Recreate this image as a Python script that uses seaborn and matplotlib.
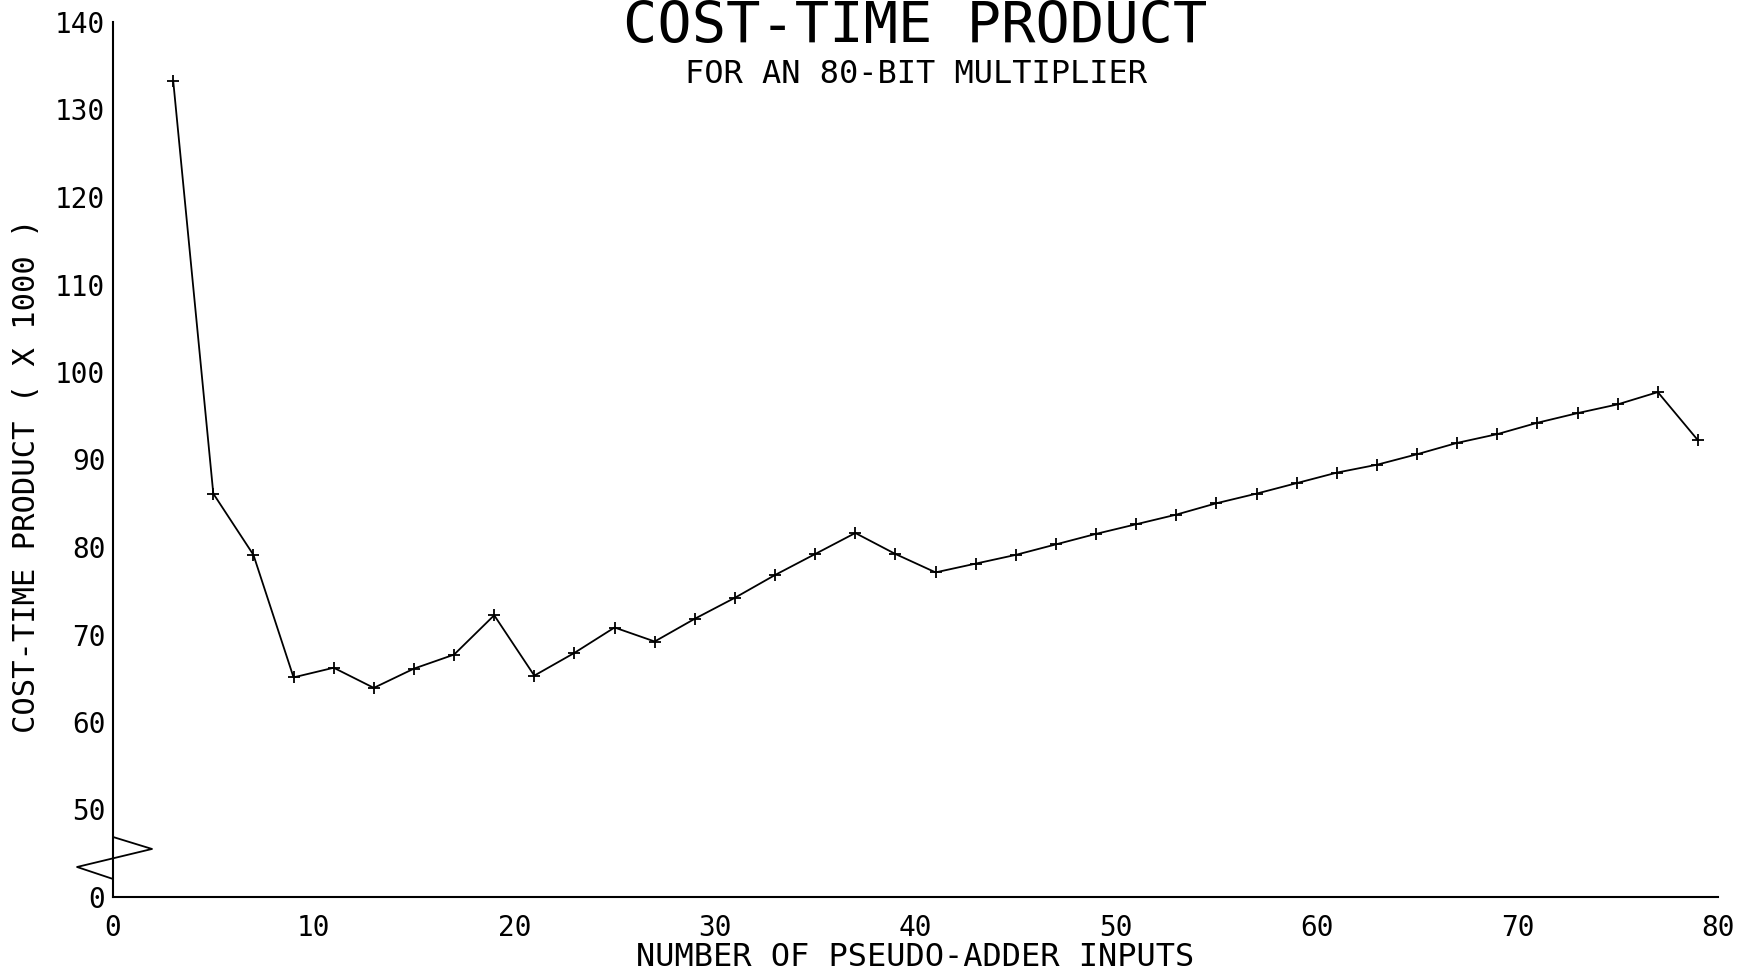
import numpy as np
import matplotlib
matplotlib.use("Agg")
import matplotlib.pyplot as plt
import seaborn as sns

# Number of pseudo-adder inputs and cost-time product (x 1000)
adder_inputs = [3, 5, 7, 9, 11, 13, 15, 17, 19, 21, 23, 25, 27, 29, 31, 33, 35,
                37, 39, 41, 43, 45, 47, 49, 51, 53, 55, 57, 59, 61, 63, 65, 67,
                69, 71, 73, 75, 77, 79]
cost_time = [133.3, 86.1, 79.1, 65.1, 66.2, 63.9, 66.1, 67.7, 72.2, 65.3, 67.9,
             70.8, 69.2, 71.8, 74.2, 76.8, 79.2, 81.6, 79.2, 77.1, 78.1, 79.1,
             80.3, 81.5, 82.6, 83.7, 85.0, 86.1, 87.3, 88.5, 89.4, 90.6, 91.9,
             92.9, 94.2, 95.3, 96.3, 97.7, 92.2]

x_ticks = [0, 10, 20, 30, 40, 50, 60, 70, 80]
y_ticks = [0, 50, 60, 70, 80, 90, 100, 110, 120, 130, 140]

title = "COST-TIME PRODUCT"
subtitle = "FOR AN 80-BIT MULTIPLIER"
x_label = "NUMBER OF PSEUDO-ADDER INPUTS"
y_label = "COST-TIME PRODUCT ( X 1000 )"

sns.set_theme(style="white")
plt.rcParams["font.family"] = ["DejaVu Sans Mono", "DejaVu Sans"]
plt.rcParams["text.color"] = "black"


# Broken y axis: 0..50 squeezed into one tick step, 10 units per step above 50
def fwd(v):
    v = np.asarray(v, dtype=float)
    return np.where(v >= 50, (v - 40.0) / 10.0, v / 50.0)


def inv(p):
    p = np.asarray(p, dtype=float)
    return np.where(p >= 1, p * 10.0 + 40.0, p * 50.0)


fig = plt.figure(figsize=(17.61, 9.73), dpi=100)
ax = fig.add_axes([113 / 1761, 76 / 973, 1605 / 1761, 875 / 973])
ax.set_yscale("function", functions=(fwd, inv))

sns.lineplot(x=adder_inputs, y=cost_time, ax=ax, color="black", linewidth=1.3,
             marker="+", markersize=8, markeredgewidth=1.3,
             markeredgecolor="black", markerfacecolor="black")

ax.set_xlim(0, 80)
ax.set_ylim(0, 140)
ax.set_xticks(x_ticks)
ax.set_xticklabels([str(t) for t in x_ticks])
ax.set_yticks(y_ticks)
ax.set_yticklabels([str(t) for t in y_ticks])
ax.minorticks_off()

sns.despine(ax=ax)
for side in ("left", "bottom"):
    ax.spines[side].set_color("black")
    ax.spines[side].set_linewidth(1.5)

ax.tick_params(axis="both", which="major", direction="inout", length=7,
               width=1.3, color="black", labelsize=20, labelcolor="black")
ax.tick_params(axis="y", pad=2)
ax.tick_params(axis="x", pad=9)

# Axis-break zigzag on the y axis between 0 and 50
ax.plot([0.0, 0.0243, -0.0224, 0.0], [0.0686, 0.0549, 0.0343, 0.0206],
        transform=ax.transAxes, color="black", linewidth=1.3, clip_on=False)

ax.set_title(title, fontsize=41, y=(897 - 43) / 875, pad=0, va="baseline",
             color="black")
ax.text(0.5, (897 - 83) / 875, subtitle, transform=ax.transAxes,
        ha="center", va="baseline", fontsize=23, color="black")

ax.set_xlabel(x_label, fontsize=23, va="center", ha="center", color="black")
ax.xaxis.set_label_coords(0.5, (897 - 957) / 875)
ax.set_ylabel(y_label, fontsize=22, va="center", ha="center", color="black")
ax.yaxis.set_label_coords((27 - 113) / 1605, (897 - 476) / 875)

ax.grid(False)
fig.savefig("out.png", dpi=100, facecolor="white")
